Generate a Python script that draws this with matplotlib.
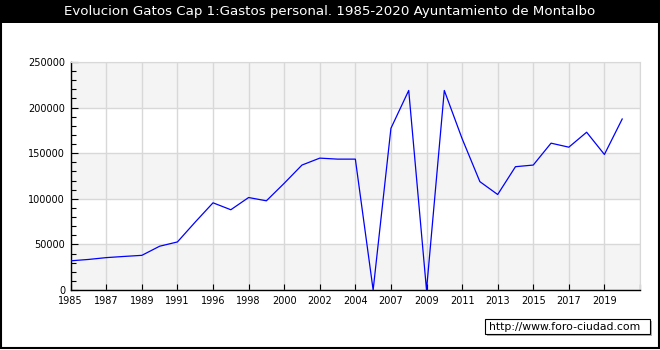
import matplotlib
matplotlib.use("Agg")
import matplotlib.pyplot as plt
from matplotlib.patches import Rectangle
import numpy as np

# data
years = [1985, 1986, 1987, 1988, 1989, 1990, 1991, 1995, 1996, 1997,
         1998, 1999, 2000, 2001, 2002, 2003, 2004, 2006, 2007, 2008,
         2009, 2010, 2011, 2012, 2013, 2014, 2015, 2016, 2017, 2018,
         2019, 2020]
gastos = [32000, 33500, 35500, 36800, 38000, 48000, 52700, 74500, 95600, 88000,
          101400, 97800, 117000, 137000, 144600, 143500, 143500, 0, 177300, 218800,
          0, 218800, 166000, 118800, 104700, 135200, 137000, 161000, 156600, 173000,
          148600, 187500]

title = "Evolucion Gatos Cap 1:Gastos personal. 1985-2020 Ayuntamiento de Montalbo"

fig = plt.figure(figsize=(6.6, 3.5), dpi=100)
fig.patch.set_facecolor("white")

# black title bar and outer frame
fig.patches.append(Rectangle((0, 1 - 23 / 350), 1, 23 / 350, transform=fig.transFigure,
                             facecolor="black", edgecolor="none", zorder=0))
fig.patches.append(Rectangle((1 / 660, 2 / 350), 658 / 660, 347 / 350,
                             transform=fig.transFigure, facecolor="none",
                             edgecolor="black", linewidth=1.5, zorder=1))
fig.text(0.5, 1 - 12 / 350, title, color="white", ha="center", va="center", fontsize=9.6)

ax = fig.add_axes([70.7 / 660, 60 / 350, (640 - 70.7) / 660, (289 - 61) / 350])
idx = np.arange(len(years))

# alternating horizontal bands
for lo in range(0, 250000, 100000):
    ax.axhspan(lo, lo + 50000, color="#f4f4f4", zorder=0, lw=0)

ax.plot(idx, gastos, color="blue", lw=0.9, zorder=3)

ax.set_xlim(0, 32)
ax.set_ylim(0, 250000)
xt = np.arange(0, 33, 2)
ax.set_xticks(xt)
ax.set_xticklabels([str(years[i]) if i < len(years) else "" for i in xt], fontsize=7)
ax.set_yticks(np.arange(0, 250001, 50000))
ax.set_yticklabels([str(v) for v in range(0, 250001, 50000)], fontsize=7)
ax.set_yticks(np.arange(0, 250001, 10000), minor=True)
ax.tick_params(axis="y", which="major", direction="in", length=5, width=0.8, pad=4)
ax.tick_params(axis="y", which="minor", direction="in", length=3.5, width=0.8)
ax.tick_params(axis="x", direction="in", length=4, width=0.8, pad=4)

ax.grid(True, which="major", color="#d8d8d8", lw=1.0, zorder=1)
ax.set_axisbelow(True)
for s in ["top", "right"]:
    ax.spines[s].set_color("#d8d8d8")
for s in ["left", "bottom"]:
    ax.spines[s].set_color("black")
    ax.spines[s].set_linewidth(1.0)

# watermark box with a small shadow
fig.patches.append(Rectangle((487 / 660, 1 - 336 / 350), 165 / 660, 15 / 350,
                             transform=fig.transFigure, facecolor="#b0b0b0",
                             edgecolor="none", zorder=2))
fig.patches.append(Rectangle((485 / 660, 1 - 334 / 350), 165 / 660, 15 / 350,
                             transform=fig.transFigure, facecolor="white",
                             edgecolor="black", lw=0.8, zorder=3))
fig.text(489 / 660, 1 - 326.5 / 350, "http://www.foro-ciudad.com", fontsize=7.8,
         ha="left", va="center", zorder=4)

fig.savefig("out.png", dpi=100)
